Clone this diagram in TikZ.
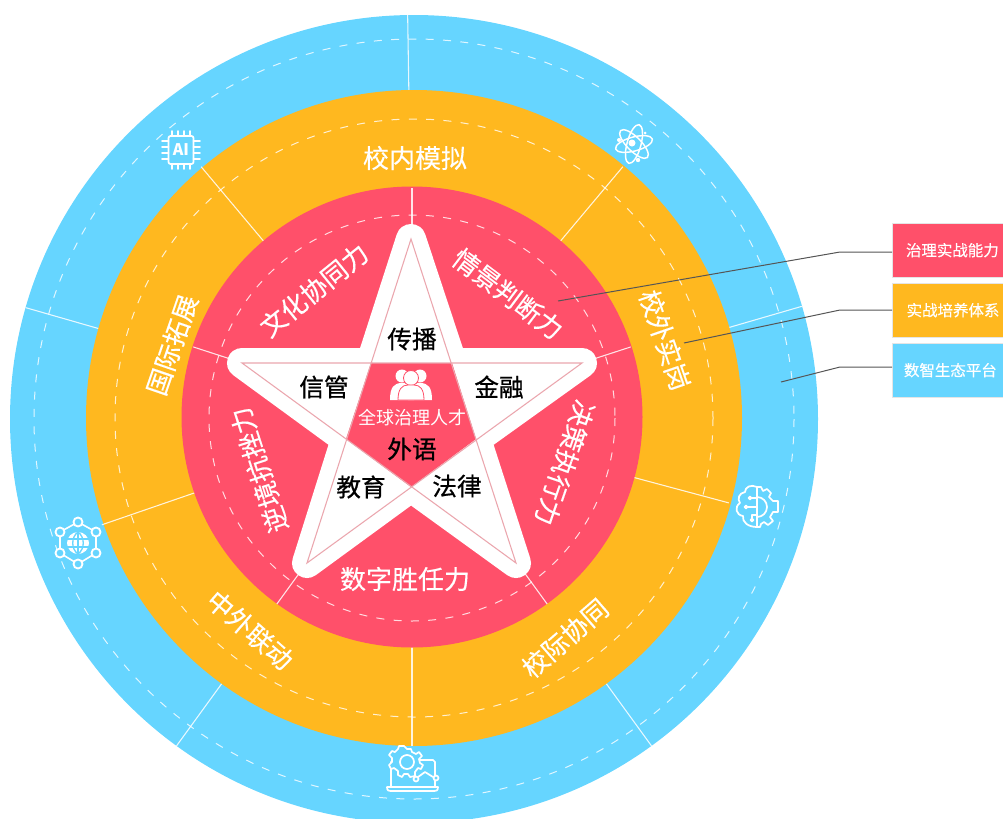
\documentclass[tikz,border=0pt]{standalone}
\usepackage{fontspec}
\setmainfont{Noto Sans CJK SC}
\newfontfamily\whfont[FakeBold=0.3]{Noto Sans CJK SC}
\newfontfamily\bkfont[FakeBold=0.7]{Noto Sans CJK SC}
\definecolor{cred}{HTML}{FF506A}
\definecolor{cyel}{HTML}{FFB81F}
\definecolor{cblu}{HTML}{66D5FF}
\definecolor{cpink}{HTML}{EBA6AE}
\definecolor{cline}{HTML}{555555}
\tikzset{
  x=0.75pt,y=-0.75pt,
  spoke/.style={draw=white,line width=0.8pt,draw opacity=0.85},
  ringdash/.style={draw=white,draw opacity=0.8,line width=0.75pt,dash pattern=on 6pt off 7pt},
  lab/.style={text=white,font=\whfont\fontsize{19.5pt}{22pt}\selectfont,inner sep=0pt},
  blk/.style={text=black,font=\bkfont\fontsize{18.5pt}{22pt}\selectfont,inner sep=0pt},
  legbox/.style={minimum width=83.25pt,minimum height=40.5pt,inner sep=0pt,text=white,anchor=north west,draw=white!80!gray,line width=0.3pt,font=\whfont\fontsize{11.6pt}{13pt}\selectfont},
  leader/.style={draw=cline,line width=0.75pt},
  icon/.style={draw=white,line width=1.3pt,line cap=round,line join=round},
}
\begin{document}
\begin{tikzpicture}
\path[use as bounding box] (0,0) rectangle (1003,818);
\clip (0,0) rectangle (1003,818);
% rings
\fill[cblu] (414,419) circle[radius=404];
\draw[ringdash] (414,419) circle[radius=380];
\foreach \a in {-90.9,-16.2,-164,54,126}
  \draw[spoke] ([shift={(414,419)}]\a:320) -- ([shift={(414,419)}]\a:404);
\fill[cyel] (414,418) circle[radius=328];
\draw[ringdash] (414,418) circle[radius=299];
\foreach \a in {-50,-130,15,161,90}
  \draw[spoke] ([shift={(412,418)}]\a:220) -- ([shift={(412,418)}]\a:328);
\fill[cred] (412,417) circle[radius=230.5];
\draw[ringdash] (412,418) circle[radius=203];
\foreach \a in {-90,-18,-162,54,126}
  \draw[spoke] ([shift={(412,418)}]\a:100) -- ([shift={(412,418)}]\a:230);
% star
\coordinate (st) at (411,239); \coordinate (sr) at (582,363); \coordinate (sbr) at (516,563);
\coordinate (sbl) at (307,563); \coordinate (sl) at (242,363);
\coordinate (c1) at (452,363); \coordinate (c2) at (476,439); \coordinate (c3) at (411,487);
\coordinate (c4) at (346,439); \coordinate (c5) at (371,363);
\draw[white,fill=white,line width=22.5pt,line join=round]
  (st) -- (c1) -- (sr) -- (c2) -- (sbr) -- (c3) -- (sbl) -- (c4) -- (sl) -- (c5) -- cycle;
\fill[cred] (c1) -- (c2) -- (c3) -- (c4) -- (c5) -- cycle;
\draw[cpink,line width=0.8pt,line join=miter] (st) -- (sbr) -- (sl) -- (sr) -- (sbl) -- cycle;
% people
\begin{scope}[shift={(411,385)}]
  \foreach \dx in {-9,9}{
    \fill[white,shift={(\dx,0)}] (0,-9) circle[radius=6.5];
    \fill[white,shift={(\dx,0)}] (-12,15) .. controls (-12,2) and (-8,-2) .. (0,-2) .. controls (8,-2) and (12,2) .. (12,15) -- cycle;
  }
  \draw[white,fill=white,draw=cred,line width=0.6pt] (0,-7) circle[radius=7.5];
  \draw[fill=white,draw=cred,line width=0.6pt] (-13,15) .. controls (-13,4) and (-9,0) .. (-3,0) -- (3,0) .. controls (9,0) and (13,4) .. (13,15) -- cycle;
\end{scope}
% center and star labels
\node[text=white,inner sep=0pt,font=\fontsize{13.5pt}{15pt}\selectfont] (talent) at (412,418) {全球治理人才};
\node[blk] (w1) at (412,339) {传播};
\node[blk] (w2) at (324,387) {信管};
\node[blk] (w3) at (499,387) {金融};
\node[blk] (w4) at (412,449) {外语};
\node[blk] (w5) at (361,487) {教育};
\node[blk] (w6) at (457,486) {法律};
% ring labels
\node[lab,rotate=39] (r1) at (314,290) {文化协同力};
\node[lab,rotate=-37] (r2) at (508,294) {情景判断力};
\node[lab,rotate=-109] (r3) at (565,463) {决策执行力};
\node[lab,rotate=108] (r4) at (259,470) {逆境抗挫力};
\node[lab] (r5) at (405,579) {数字胜任力};
\node[lab] (y1) at (415,158) {校内模拟};
\node[lab,rotate=-71] (y2) at (665,340) {校外实岗};
\node[lab,rotate=41] (y3) at (565,638) {校际协同};
\node[lab,rotate=-41] (y4) at (250,630) {中外联动};
\node[lab,rotate=71] (y5) at (172,345) {国际拓展};
% legend
\node[legbox,fill=cred] (leg1) at (892,223) {\hspace*{7pt}治理实战能力};
\node[legbox,fill=cyel] (leg2) at (892,283) {\hspace*{8pt}实战培养体系};
\node[legbox,fill=cblu] (leg3) at (892,343) {\hspace*{4pt}数智生态平台};
\coordinate (p1) at (558,301); \coordinate (q1) at (840,252);
\coordinate (p2) at (684,343); \coordinate (q2) at (840,310);
\coordinate (p3) at (781,382); \coordinate (q3) at (840,367);
\draw[leader] (p1) -- (q1) -- (q1 -| leg1.west);
\draw[leader] (p2) -- (q2) -- (q2 -| leg2.west);
\draw[leader] (p3) -- (q3) -- (q3 -| leg3.west);
% AI chip
\begin{scope}[shift={(181,150)}]
  \draw[icon,rounded corners=1.5pt] (-12.5,-14) rectangle (12.5,14);
  \foreach \d in {-9,-3,3,9}{
    \draw[icon] (\d,-19) -- (\d,-14); \draw[icon] (\d,14) -- (\d,19);
    \draw[icon] (-19,\d) -- (-12.5,\d); \draw[icon] (12.5,\d) -- (19,\d);
  }
  \node[text=white,inner sep=0pt,font=\fontsize{12pt}{13pt}\selectfont\bfseries] (ai) at (0,0) {AI};
\end{scope}
% atom
\begin{scope}[shift={(634,144)}]
  \draw[icon,line width=1.1pt,rotate=75] (0,0) ellipse[x radius=20,y radius=7];
  \draw[icon,line width=1.1pt,rotate=15] (0,0) ellipse[x radius=19,y radius=7];
  \draw[icon,line width=1.1pt,rotate=-45] (0,0) ellipse[x radius=19,y radius=7];
  \fill[white] (-2,-1) circle[radius=3.5];
  \fill[white] (-15,-4) circle[radius=2];
  \fill[white] (11,-11) circle[radius=1.5];
  \fill[white] (4,16) circle[radius=2.2];
\end{scope}
% brain gear
\begin{scope}[shift={(757,507)}]
  \draw[icon] (0,-20) -- (0,20);
  \draw[icon] (0,-20) .. controls (-6,-23) and (-12,-20) .. (-12,-15) .. controls (-18,-14) and (-20,-8) .. (-17,-4) .. controls (-23,0) and (-21,8) .. (-14,9) .. controls (-15,15) and (-9,20) .. (0,20);
  \draw[icon] (0,-9) -- (-6,-9);
  \draw[icon] (0,0) -- (-9,0);
  \draw[icon] (0,8) -- (-5,8) -- (-5,12);
  \draw[icon,fill=cblu] (-7,-9) circle[radius=1.5];
  \draw[icon,fill=cblu] (-11,0) circle[radius=1.5];
  \draw[icon,fill=cblu] (-5,13) circle[radius=1.5];
  \draw[icon] (0,-20) -- (4,-20) -- (6,-16) -- (10,-18) -- (14,-14) -- (12,-10) -- (16,-6) -- (21,-6) -- (21,5) -- (16,5) -- (13,10) -- (16,14) -- (11,18) -- (7,15) -- (4,17) -- (3,20) -- (0,20);
  \draw[icon] (0,-10) arc[start angle=-90,end angle=90,radius=10];
\end{scope}
% network globe
\begin{scope}[shift={(78,543)}]
  \draw[icon,line width=1.2pt] (0,-21) -- (18,-11) -- (18,10) -- (0,21) -- (-18,10) -- (-18,-11) -- cycle;
  \foreach \p in {(0,-21),(18,-11),(18,10),(0,21),(-18,10),(-18,-11)}
    \draw[icon,fill=cblu,line width=1.4pt] \p circle[radius=4.5];
  \fill[white] (0,0) circle[radius=11];
  \draw[cblu,line width=1pt] (-11,-4) -- (11,-4) (-11,4) -- (11,4) (0,-11) -- (0,11);
  \draw[cblu,line width=1pt] (0,-11) .. controls (-7,-6) and (-7,6) .. (0,11);
  \draw[cblu,line width=1pt] (0,-11) .. controls (7,-6) and (7,6) .. (0,11);
\end{scope}
% laptop gear
\begin{scope}[shift={(0,0)}]
  \draw[icon] (391,787) -- (391,762) -- (394,760) -- (433,760) -- (435,762) -- (435,787);
  \draw[icon] (387,787) -- (438,787) .. controls (438,791) and (436,791) .. (434,791) -- (391,791) .. controls (389,791) and (387,791) .. (387,787);
  \draw[icon,fill=cblu] (407,749) -- (411,749) -- (412,752) -- (416,754) -- (419,752) -- (422,756) -- (419,759) -- (420,763) -- (423,765) -- (421,769) -- (418,768) -- (415,772) -- (415,776) -- (410,777) -- (408,774) -- (404,774) -- (402,777) -- (398,775) -- (398,771) -- (394,768) -- (391,769) -- (389,765) -- (392,762) -- (392,758) -- (389,755) -- (392,751) -- (395,752) -- (398,749) -- (399,746) -- (404,746) -- cycle;
  \draw[icon] (407,762) circle[radius=7];
  \draw[icon] (418,777) -- (425,772) -- (433,777);
  \draw[icon,fill=cblu] (416,779) circle[radius=2.5];
  \draw[icon,fill=cblu] (436,778) circle[radius=2.5];
\end{scope}
\end{tikzpicture}
\end{document}
